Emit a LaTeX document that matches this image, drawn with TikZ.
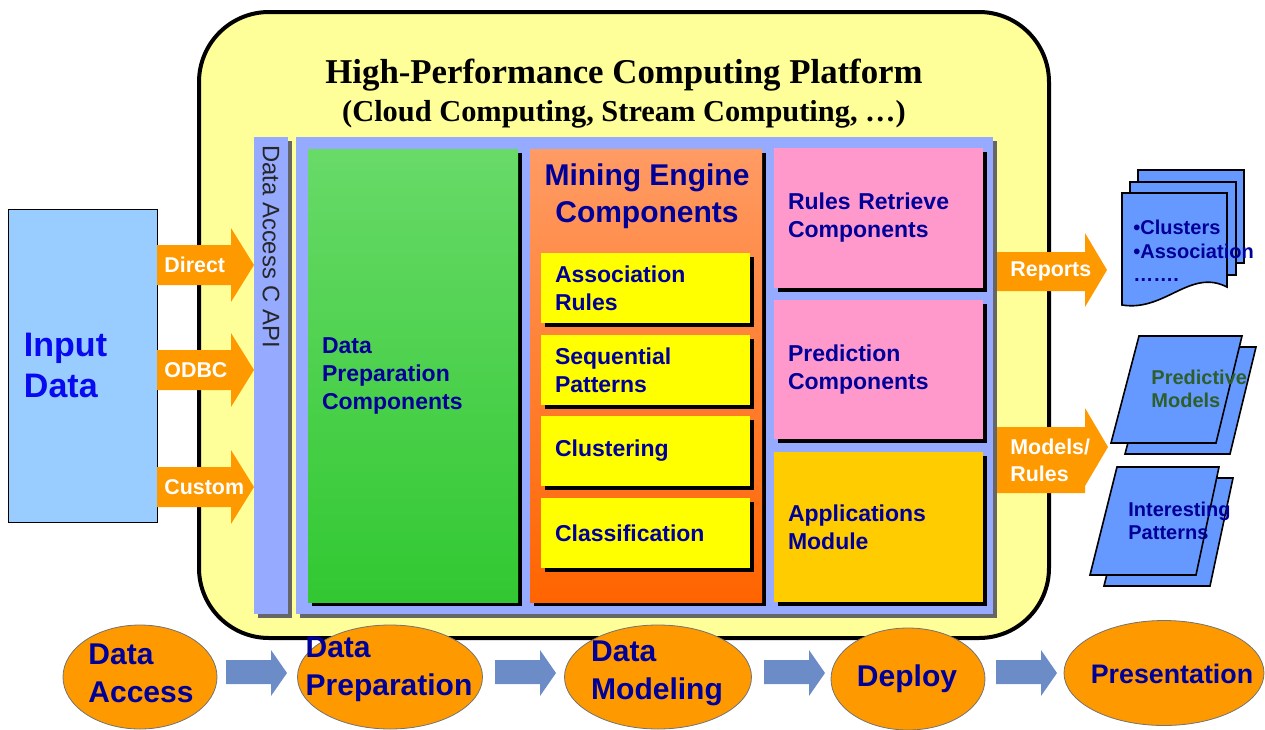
\documentclass[tikz,border=0pt]{standalone}
\usepackage{fontspec}
\setmainfont{Liberation Sans}
\newfontfamily\titlefont{Liberation Serif}
\usetikzlibrary{positioning}
\usetikzlibrary{shapes.geometric}
\usetikzlibrary{shadows}

\definecolor{navy}{RGB}{0,0,153}
\definecolor{inblue}{RGB}{10,10,240}
\definecolor{inputfill}{RGB}{153,204,255}
\definecolor{orangeA}{RGB}{255,153,0}
\definecolor{hpcyellow}{RGB}{255,255,153}
\definecolor{apiblue}{RGB}{150,170,255}
\definecolor{greenT}{RGB}{104,218,104}
\definecolor{greenB}{RGB}{50,200,50}
\definecolor{orangeT}{RGB}{255,155,100}
\definecolor{orangeB}{RGB}{255,100,0}
\definecolor{boxyellow}{RGB}{255,255,0}
\definecolor{pinkbox}{RGB}{255,153,204}
\definecolor{appyellow}{RGB}{255,204,0}
\definecolor{docblue}{RGB}{102,153,255}
\definecolor{darkgreen}{RGB}{45,95,45}
\definecolor{stepblue}{RGB}{108,140,200}

\begin{document}
\begin{tikzpicture}[x=0.5pt,y=-0.5pt,
    comp/.style={align=left, text=navy, font=\bfseries\fontsize{11.5}{14}\selectfont,
        inner xsep=7pt, general shadow={fill=black, shadow xshift=2pt, shadow yshift=-2pt}},
    panel/.style={fill=apiblue, inner sep=0pt,
        general shadow={fill=black!60, shadow xshift=2pt, shadow yshift=-2pt}},
    arrowtext/.style={text=white, font=\bfseries\fontsize{10.7}{13.5}\selectfont,
        anchor=west, align=left, inner sep=0pt},
    docpage/.style={draw=black, fill=docblue, line width=0.8pt},
    doctext/.style={font=\bfseries\fontsize{10}{11.8}\selectfont, align=left, inner sep=0pt, anchor=west},
    stage/.style={ellipse, draw=black!55, fill=orangeA, inner sep=0pt},
    stagetext/.style={text=navy, font=\bfseries\fontsize{15}{19}\selectfont, align=left, inner sep=0pt}]

\useasboundingbox (0,0) rectangle (1265,729);

% platform
\node[draw=black, line width=2pt, fill=hpcyellow, rounded corners=35pt,
    minimum width=425pt, minimum height=313pt] (hpc) at (624,325) {};
\node[font=\titlefont\bfseries\fontsize{17.4}{20}\selectfont] (title) at (624,75)
    {High-Performance Computing Platform};
\node[font=\titlefont\bfseries\fontsize{15.2}{18}\selectfont] (subtitle) at (624,114)
    {(Cloud Computing, Stream Computing, …)};

% input
\node[draw=black, fill=inputfill, text=inblue, font=\bfseries\fontsize{17}{20.5}\selectfont,
    align=left, text width=58.5pt, inner xsep=8pt, minimum height=156.5pt] (input) at (82.5,365.5)
    {Input\\Data};

\foreach \y/\t/\n in {265/Direct/direct, 370/ODBC/odbc, 487/Custom/custom}{
    \fill[orangeA] (157,\y-20) -- (231,\y-20) -- (231,\y-37) -- (254,\y) -- (231,\y+37)
        -- (231,\y+20) -- (157,\y+20) -- cycle;
    \node[arrowtext] (\n) at (164,\y) {\t};
}

% api and panel
\node[panel, minimum width=17pt, minimum height=238.5pt] (api) at (271,375.5) {};
\node[rotate=-90, anchor=west, text=black!85, font=\fontsize{11.9}{13}\selectfont,
    inner sep=0pt] (apitext) at (271,145) {Data Access C API};
\node[panel, minimum width=348.5pt, minimum height=238.5pt] (inner) at (644.5,375.5) {};

% components
\node[comp, top color=greenT, bottom color=greenB, text width=91pt, minimum height=226.5pt]
    (prep) at (413,375.5) {Data\\Preparation\\Components};

\node[comp, top color=orangeT, bottom color=orangeB, minimum width=116pt, minimum height=226.5pt]
    (mine) at (646,375.5) {};
\node[text=navy, font=\bfseries\fontsize{15}{18.5}\selectfont, align=center]
    (minetitle) at (647,196) {Mining Engine\\Components};

\foreach \n/\y/\t in {assoc/288/{Association\\Rules}, seq/370/{Sequential\\Patterns},
        clus/450.5/Clustering, class/533/Classification}
    \node[comp, fill=boxyellow, text width=90.5pt, minimum height=35pt] (\n) at (645.5,\y) {\t};

\node[comp, fill=pinkbox, text width=90.5pt, minimum height=70pt] (retr) at (878.5,218)
    {Rules Retrieve\\Components};
\node[comp, fill=pinkbox, text width=90.5pt, minimum height=69.5pt] (pred) at (878.5,369.5)
    {Prediction\\Components};
\node[comp, fill=appyellow, text width=90.5pt, minimum height=75pt] (appl) at (878.5,527)
    {Applications\\Module};

% outputs
\fill[orangeA] (997,252) -- (1085,252) -- (1085,233) -- (1107,270) -- (1085,307)
    -- (1085,291) -- (997,291) -- cycle;
\node[arrowtext] (reports) at (1010,271) {Reports};
\fill[orangeA] (997,427) -- (1085,427) -- (1085,408) -- (1108,447) -- (1085,486)
    -- (1085,493) -- (997,493) -- cycle;
\node[arrowtext] (models) at (1010,460.5) {Models/\\Rules};

\draw[docpage] (1138,170) rectangle (1244,263);
\draw[docpage] (1130,182) rectangle (1236,275);
\draw[docpage] (1122,193) -- (1227,193) -- (1227,287)
    .. controls (1190,268) and (1165,312) .. (1122,305) -- cycle;
\node[doctext, text=navy] (doc) at (1133,251) {•Clusters\\•Association\\…….};

\draw[docpage] (1153,347) -- (1256,347) -- (1230,454) -- (1125,454) -- cycle;
\draw[docpage] (1139,336) -- (1242,336) -- (1216,443) -- (1111,443) -- cycle;
\node[doctext, text=darkgreen] (predm) at (1151,389) {Predictive\\Models};

\draw[docpage] (1131,478) -- (1233,478) -- (1210,586) -- (1104,586) -- cycle;
\draw[docpage] (1117,467) -- (1219,467) -- (1196,575) -- (1090,575) -- cycle;
\node[doctext, text=navy] (intp) at (1128,521) {Interesting\\Patterns};

% process
\node[stage, minimum width=77pt, minimum height=52pt] (access) at (140,677) {};
\node[stage, minimum width=92.5pt, minimum height=52pt] (prepare) at (390,677) {};
\node[stage, minimum width=93.5pt, minimum height=52pt] (model) at (658,677) {};
\node[stage, minimum width=77pt, minimum height=51pt] (deploy) at (908,679) {};
\node[stage, minimum width=100pt, minimum height=52.5pt] (present) at (1164,673) {};

\node[stagetext] (accesstext) at (141,673) {Data\\Access};
\node[stagetext] (preparetext) at (389,669) {Data\\Preparation};
\node[stagetext] (modeltext) at (657,673) {Data\\Modeling};
\node[stagetext] (deploytext) at (907,679) {Deploy};
\node[stagetext, font=\bfseries\fontsize{13.4}{16}\selectfont] (presenttext) at (1172,674) {Presentation};

\foreach \a in {226,495,764,996}
    \fill[stepblue] (\a,660) -- (\a+45,660) -- (\a+45,650) -- (\a+61,673) -- (\a+45,696)
        -- (\a+45,684) -- (\a,684) -- cycle;

\end{tikzpicture}
\end{document}
